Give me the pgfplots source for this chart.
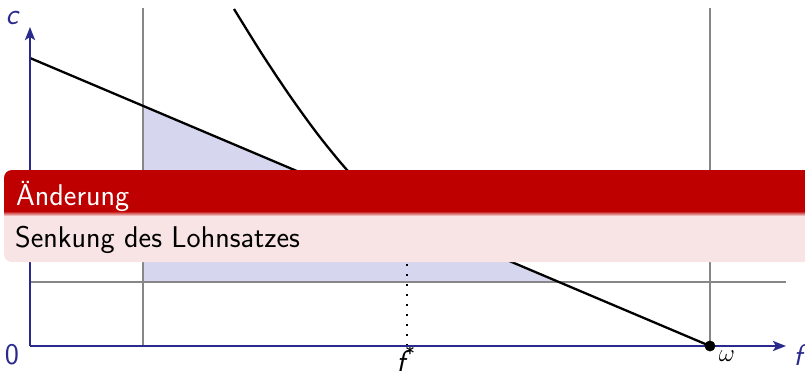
\documentclass[border=0pt]{standalone}
\usepackage{fontspec}
\usepackage{pgfplots}
\pgfplotsset{compat=1.18}
\usetikzlibrary{arrows.meta}
\definecolor{navy}{RGB}{42,42,142}
\definecolor{lav}{RGB}{214,214,238}
\definecolor{blockred}{RGB}{191,0,0}
\definecolor{blockbody}{RGB}{248,228,228}
\definecolor{gline}{RGB}{135,135,135}
\begin{document}
\begin{tikzpicture}[font=\sffamily\fontsize{30}{36}\selectfont]
\path[use as bounding box] (0,0) rectangle (805pt,373pt);
\begin{axis}[at={(30pt,27pt)}, anchor=south west, x=1pt, y=1pt,
  xmin=0, xmax=756, ymin=0, ymax=319,
  axis lines=left,
  axis line style={draw=navy, line width=2.7pt, -{Stealth[length=13pt,width=10pt,inset=3pt]}},
  ticks=none, clip=false, axis on top]
\addplot[fill=lav, draw=none] coordinates {(113,64) (113,240) (529,64) (113,64)};
\addplot[gline, line width=2pt] coordinates {(113,0) (113,338)};
\addplot[gline, line width=2pt] coordinates {(680,0) (680,338)};
\addplot[gline, line width=2pt] coordinates {(0,64) (756,64)};
\addplot[black, line width=2.3pt] coordinates {(0,288) (680,0)};
\addplot[black, line width=2.3pt, smooth] coordinates {(204,337) (232,292) (260,250) (288,211.4) (317,176) (345,148) (377,126) (410,111) (450,99) (470,95)};
\addplot[black, line width=1.9pt, dash pattern=on 1.9pt off 8.1pt] coordinates {(377,0) (377,128)};
\addplot[only marks, mark=*, mark size=5.2pt, black] coordinates {(680,0)};
\node[navy] at (axis cs:-18,328) {\itshape c};
\node[navy] at (axis cs:-18,-9) {0};
\node[navy] at (axis cs:768,-9) {\itshape f};
\node[anchor=base, inner sep=0pt] at (axis cs:376,-25) {{\itshape f}\textsuperscript{*}};
\node at (axis cs:697,-10) {$\omega$};
\end{axis}
\begin{scope}
\clip[rounded corners=8pt] (4pt,111pt) rectangle (830pt,203pt);
\fill[blockbody] (0pt,100pt) rectangle (840pt,210pt);
\fill[blockred] (0pt,162pt) rectangle (840pt,210pt);
\shade[top color=blockred, bottom color=blockbody] (0pt,157pt) rectangle (840pt,162pt);
\end{scope}
\node[anchor=base west, white, inner sep=0pt] at (16pt,168pt) {Änderung};
\node[anchor=base west, inner sep=0pt] at (15pt,126pt) {Senkung des Lohnsatzes};
\end{tikzpicture}
\end{document}
